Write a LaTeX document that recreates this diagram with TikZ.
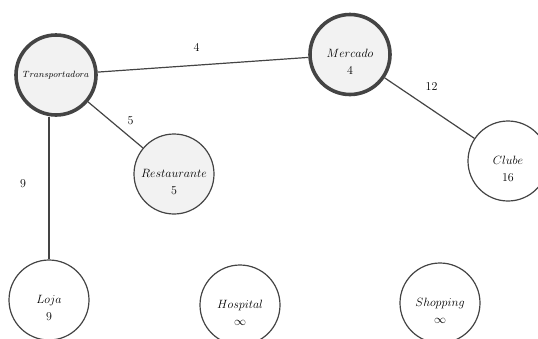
\documentclass[tikz,border=0pt]{standalone}
\usepackage{tikz}
\usetikzlibrary{positioning, calc}
\usepackage{xcolor}
\definecolor{roadgray}{RGB}{68,68,68}
\definecolor{visitfill}{RGB}{242,242,242}
\newcommand{\lugar}[2]{\rule{0pt}{23pt}$#1$\\[3pt]$#2$}

\begin{document}
\begin{tikzpicture}[
    x=1pt, y=-1pt,
    place/.style={circle, draw=roadgray, line width=1.2pt, fill=white, minimum size=80pt, inner sep=0pt, align=center, font=\large},
    visited/.style={place, fill=visitfill},
    current/.style={visited, line width=3.6pt},
    road/.style={draw=roadgray, line width=1.2pt},
    dist/.style={font=\large}
]
\useasboundingbox (0,0) rectangle (538,338);

\node[current, font=\small] (transp) at (56,75) {$Transportadora$};
\node[current] (merc) at (350,54.5) {\lugar{Mercado}{4}};
\node[visited] (rest) at (174,174) {\lugar{Restaurante}{5}};
\node[place] (clube) at (508,161) {\lugar{Clube}{16}};
\node[place] (loja) at (49,300) {\lugar{Loja}{9}};
\node[place] (hosp) at (240,305) {\lugar{Hospital}{\infty}};
\node[place] (shop) at (440,303) {\lugar{Shopping}{\infty}};

\draw[road] (transp) -- node[dist, xshift=-6.5pt, yshift=17.5pt] {4} (merc);
\draw[road] (transp) -- node[dist, xshift=15pt, yshift=4pt] {5} (rest);
\draw[road] (transp.south -| loja) -- node[dist, xshift=-26pt, yshift=4pt] {9} (loja);
\draw[road] (merc) -- node[dist, xshift=2pt, yshift=22pt] {12} (clube);
\end{tikzpicture}
\end{document}
